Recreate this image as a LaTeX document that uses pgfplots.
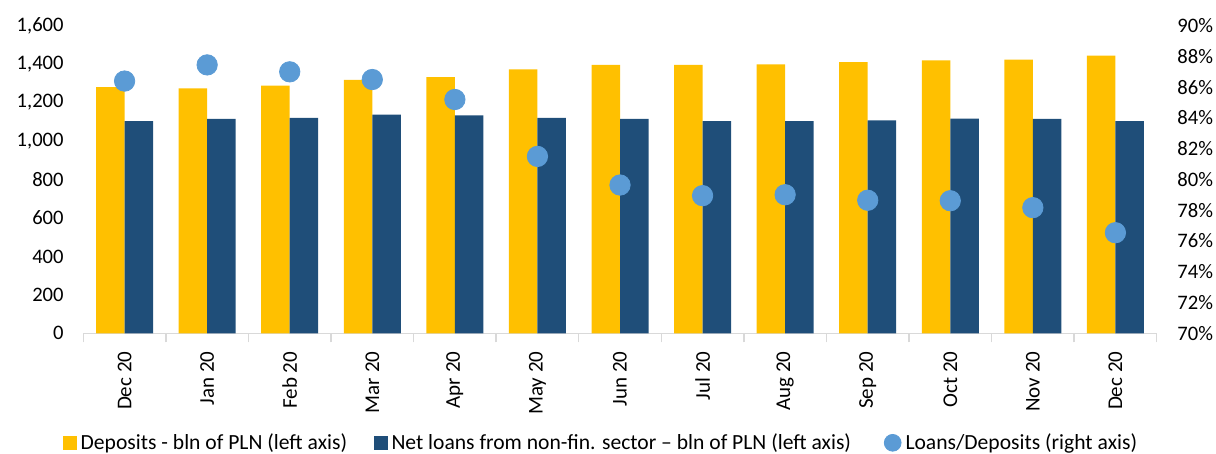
\documentclass[border=0pt]{standalone}
\usepackage{fontspec}
\setmainfont{Carlito}
\usepackage{pgfplots}
\pgfplotsset{compat=1.18}
\definecolor{dep}{HTML}{FFC000}
\definecolor{loan}{HTML}{1F4E79}
\definecolor{circ}{HTML}{5B9BD5}
\definecolor{axgray}{HTML}{D9D9D9}

\begin{document}
\begin{tikzpicture}[font=\fontsize{10.3}{12}\selectfont]
\path[use as bounding box] (0,0) rectangle (608pt,227pt);
\begin{axis}[
  at={(41.65pt,60.35pt)}, anchor=south west,
  scale only axis, width=536.7pt, height=153.8pt,
  xmin=-0.5, xmax=12.5, ymin=0, ymax=1600,
  ybar=0pt, bar width=14.25pt,
  axis x line*=bottom, axis y line*=left,
  y axis line style={draw=none},
  x axis line style={axgray, line width=0.7pt},
  xtick={0,...,12},
  xticklabels={Dec 20,Jan 20,Feb 20,Mar 20,Apr 20,May 20,Jun 20,Jul 20,Aug 20,Sep 20,Oct 20,Nov 20,Dec 20},
  minor xtick={-0.5,0.5,...,12.5},
  major tick length=0pt, minor tick length=4.5pt, tick align=outside,
  minor x tick style={axgray, line width=0.7pt},
  ytick={0,200,...,1600},
  xticklabel style={rotate=90, anchor=east, inner sep=0pt, font=\fontsize{10.5}{12}\selectfont},
  xticklabel shift=9pt,
  yticklabel style={inner sep=0pt},
  yticklabel shift=9.65pt,
  /pgf/number format/assume math mode=true,
  /pgf/number format/1000 sep={,},
  legend columns=3,
  legend cell align=left,
  legend style={at={(axis description cs:-0.01863,-0.3560)}, anchor=west,
    draw=none, fill=none, inner sep=0pt, outer sep=0pt,
    font=\fontsize{10.8}{12}\selectfont,
    /tikz/column sep=2pt,
    /tikz/column 2/.style={column sep=13.5pt},
    /tikz/column 4/.style={column sep=16.4pt},
    nodes={inner sep=0pt}},
]
\addplot[fill=dep, draw=none,
  legend image code/.code={\fill[dep] (0pt,-3.35pt) rectangle (6.7pt,3.35pt);}]
  coordinates {(0,1280) (1,1274) (2,1288) (3,1318) (4,1332) (5,1373) (6,1396) (7,1396) (8,1399) (9,1411) (10,1420) (11,1423) (12,1444)};
\addlegendentry{Deposits - bln of PLN (left axis)}
\addplot[fill=loan, draw=none,
  legend image code/.code={\fill[loan] (0pt,-3.35pt) rectangle (6.7pt,3.35pt);}]
  coordinates {(0,1103) (1,1115) (2,1120) (3,1137) (4,1134) (5,1120) (6,1115) (7,1103) (8,1104) (9,1108) (10,1116) (11,1115) (12,1104)};
\addlegendentry{Net loans from non-fin. sector -- bln of PLN (left axis)}
\addlegendimage{legend image code/.code={\fill[circ] (4.2pt,0pt) circle (4.2pt);}}
\addlegendentry{Loans/Deposits (right axis)}
\end{axis}
\begin{axis}[
  at={(41.65pt,60.35pt)}, anchor=south west,
  scale only axis, width=536.7pt, height=153.8pt,
  xmin=-0.5, xmax=12.5, ymin=70, ymax=90,
  axis x line=none, axis y line*=right,
  y axis line style={draw=none},
  major tick length=0pt,
  ytick={70,72,...,90},
  yticklabel style={inner sep=0pt},
  yticklabel shift=10.15pt,
  /pgf/number format/assume math mode=true,
  /pgf/number format/fixed, /pgf/number format/precision=0,
  yticklabel={\pgfmathprintnumber{\tick}\%},
]
\addplot[only marks, mark=*, mark size=5.1pt, mark options={fill=circ, draw=circ}]
  coordinates {(0,86.4) (1,87.45) (2,87.0) (3,86.5) (4,85.2) (5,81.5) (6,79.64) (7,78.95) (8,79.01) (9,78.65) (10,78.62) (11,78.17) (12,76.54)};
\end{axis}
\end{tikzpicture}
\end{document}
